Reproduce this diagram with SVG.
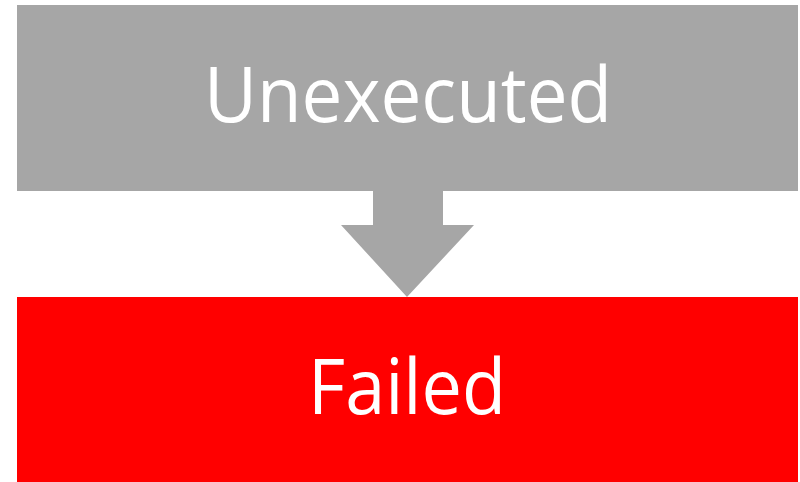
<svg xmlns="http://www.w3.org/2000/svg" width="800" height="482" viewBox="0 0 800 482">
  <style>
    .lbl { font-family: "Open Sans", "Liberation Sans", sans-serif; font-size: 76px; fill: #ffffff; text-anchor: middle; }
  </style>
  <rect x="0" y="0" width="800" height="482" fill="#ffffff"/>
  <g id="connectors">
    <polygon points="373,189 443,189 443,225 474,225 407,297 341,225 373,225" fill="#a6a6a6"/>
  </g>
  <g id="unexecuted">
    <rect x="17" y="5" width="781" height="186" fill="#a6a6a6"/>
    <text class="lbl" x="408" y="122" textLength="408" lengthAdjust="spacingAndGlyphs">Unexecuted</text>
  </g>
  <g id="failed">
    <rect x="17" y="297" width="781" height="185" fill="#ff0000"/>
    <text class="lbl" x="407" y="414" textLength="198" lengthAdjust="spacingAndGlyphs">Failed</text>
  </g>
</svg>
